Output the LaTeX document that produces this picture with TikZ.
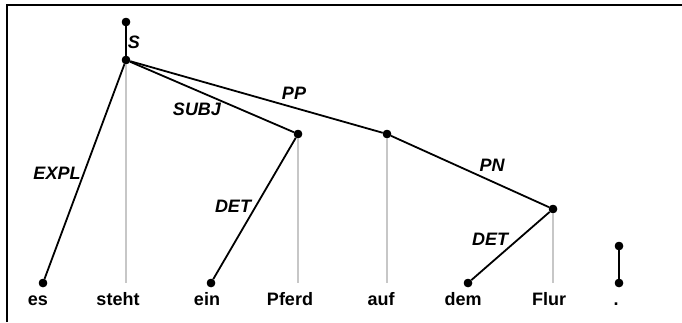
\documentclass[tikz,border=0pt]{standalone}
\usepackage{fontspec}
\setmainfont{Liberation Sans}
\begin{document}
\begin{tikzpicture}[x=1pt,y=-1pt,
  dot/.style={circle,fill=black,inner sep=0pt,minimum size=8.5pt},
  edge/.style={line width=1.8pt},
  proj/.style={line width=1.6pt,draw=black!22},
  word/.style={anchor=base,inner sep=0pt,font=\fontsize{18}{20}\selectfont\bfseries},
  rel/.style={inner sep=0pt,font=\fontsize{18}{20}\selectfont\bfseries\itshape},
  frame/.style={line width=2pt}]
\useasboundingbox (0,0) rectangle (682,322);
% frame
\coordinate (fl) at (7,322);
\coordinate (fc) at (7,5);
\coordinate (fr) at (682,5);
\draw[frame] (fl) -- (fc) -- (fr);
% tree nodes
\node[dot] (root)  at (126,22)  {};
\node[dot] (S)     at (126,60)  {};
\node[dot] (es)    at (43,283)  {};
\node[dot] (ein)   at (211,283) {};
\node[dot] (pferd) at (298,134) {};
\node[dot] (auf)   at (387,134) {};
\node[dot] (dem)   at (468,283) {};
\node[dot] (flur)  at (553,209) {};
\node[dot] (pA)    at (619,246) {};
\node[dot] (pB)    at (619,283) {};
% ends of the projection lines
\coordinate (sthEnd) at (126,283);
\coordinate (pfEnd)  at (298,283);
\coordinate (aufEnd) at (387,283);
\coordinate (flEnd)  at (553,283);
% projection lines
\draw[proj] (S) -- (sthEnd);
\draw[proj] (pferd) -- (pfEnd);
\draw[proj] (auf) -- (aufEnd);
\draw[proj] (flur) -- (flEnd);
% dependency edges
\draw[edge] (root) -- (S);
\draw[edge] (S) -- (es);
\draw[edge] (S) -- (pferd);
\draw[edge] (S) -- (auf);
\draw[edge] (pferd) -- (ein);
\draw[edge] (auf) -- (flur);
\draw[edge] (flur) -- (dem);
\draw[edge] (pA) -- (pB);
% redraw dots on top
\foreach \n in {root,S,es,ein,pferd,auf,dem,flur,pA,pB}
  \fill (\n) circle (4.2pt);
% relation labels
\node[rel] (lS)    at (134,42)  {S};
\node[rel] (lSUBJ) at (197,109) {SUBJ};
\node[rel] (lPP)   at (294,93)  {PP};
\node[rel] (lEXPL) at (57,173)  {EXPL};
\node[rel] (lDET1) at (233,206) {DET};
\node[rel] (lPN)   at (492,165) {PN};
\node[rel] (lDET2) at (490,239) {DET};
% words
\node[word] (wes)    at (38,305)  {es};
\node[word] (wsteht) at (118,305) {steht};
\node[word] (wein)   at (207,305) {ein};
\node[word] (wpferd) at (290,305) {Pferd};
\node[word] (wauf)   at (381,305) {auf};
\node[word] (wdem)   at (463,305) {dem};
\node[word] (wflur)  at (549,305) {Flur};
\node[word] (wdot)   at (616,305) {.};
\end{tikzpicture}
\end{document}
